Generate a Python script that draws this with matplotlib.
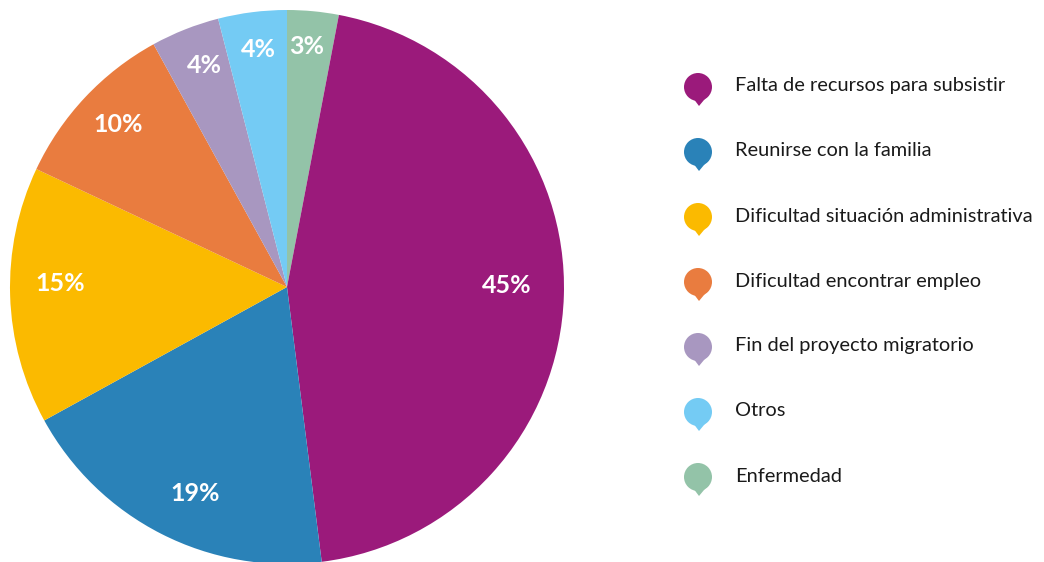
import matplotlib
matplotlib.use("Agg")
import matplotlib.pyplot as plt
from matplotlib.patches import Circle, Polygon
import numpy as np

# datos (orden de la leyenda)
categories = ["Falta de recursos para subsistir", "Reunirse con la familia",
              "Dificultad situación administrativa", "Dificultad encontrar empleo",
              "Fin del proyecto migratorio", "Otros", "Enfermedad"]
values = [45, 19, 15, 10, 4, 4, 3]
colors = ["#9B1A7B", "#2A82B8", "#FBBA00", "#E97C3F", "#A897C0", "#74CBF4", "#93C3A8"]

W, H = 1044, 562
fig = plt.figure(figsize=(W / 100, H / 100), dpi=100)
fig.patch.set_facecolor("white")

# pie: starts at the top with "Enfermedad", then clockwise
ax = fig.add_axes([10 / W, (H - 564) / H, 554 / W, 554 / H])
order = [6, 0, 1, 2, 3, 4, 5]
pie_vals = [values[i] for i in order]
pie_cols = [colors[i] for i in order]
wedges, texts = ax.pie(pie_vals, colors=pie_cols, startangle=90, counterclock=False,
                       radius=1, wedgeprops=dict(linewidth=0))

# small hand nudges of the labels (radius, angle shift in degrees)
lab_r = [0.88, 0.795, 0.81, 0.82, 0.85, 0.86, 0.87]
lab_da = [0.7, 2.6, 2.8, -3.3, -1.1, -1.4, -0.5]
ang0 = 90
for v, r, da in zip(pie_vals, lab_r, lab_da):
    mid = ang0 - v / 100 * 360 / 2 + da
    ang0 -= v / 100 * 360
    mid = np.deg2rad(mid)
    ax.text(r * np.cos(mid), r * np.sin(mid), f"{v}%", color="white",
            ha="center", va="center_baseline", fontsize=18, fontweight="bold",
            family="Lato")
ax.set_xlim(-1, 1)
ax.set_ylim(-1, 1)
ax.set_aspect("equal")
ax.axis("off")

# legend with speech-bubble markers, drawn in pixel coordinates
lax = fig.add_axes([0, 0, 1, 1])
lax.set_xlim(0, W)
lax.set_ylim(H, 0)
lax.axis("off")
for i, (lab, col) in enumerate(zip(categories, colors)):
    y = 87 + i * 65.0
    lax.add_patch(Circle((698, y), 14, color=col, lw=0))
    lax.add_patch(Polygon([(693, y + 11), (709, y + 7), (699, y + 19)], closed=True,
                          color=col, lw=0))
    lax.text(735, y - 1, lab, ha="left", va="center", fontsize=14.4,
             color="#1a1a1a", family="Lato")

fig.savefig("out.png", dpi=100)
